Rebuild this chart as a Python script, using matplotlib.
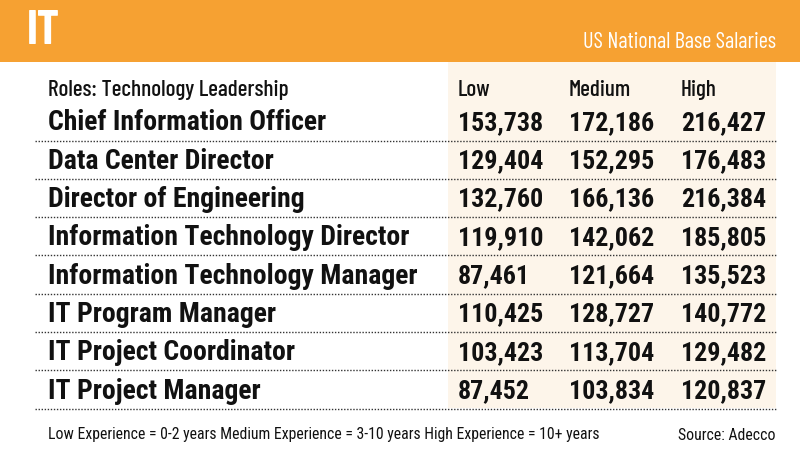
import matplotlib.pyplot as plt
from matplotlib.patches import Rectangle

roles = ["Chief Information Officer", "Data Center Director", "Director of Engineering",
         "Information Technology Director", "Information Technology Manager",
         "IT Program Manager", "IT Project Coordinator", "IT Project Manager"]
low = [153738, 129404, 132760, 119910, 87461, 110425, 103423, 87452]
medium = [172186, 152295, 166136, 142062, 121664, 128727, 113704, 103834]
high = [216427, 176483, 216384, 185805, 135523, 140772, 129482, 120837]
columns = ["Low", "Medium", "High"]

orange = "#f6a132"
cream = "#fdf5ea"
ink = "#111111"

fig = plt.figure(figsize=(8, 4.5), dpi=100)
ax = fig.add_axes([0, 0, 1, 1])
ax.set_xlim(0, 800)
ax.set_ylim(450, 0)
ax.axis("off")

bold = dict(family=["Roboto Condensed", "DejaVu Sans"], fontweight="bold")
thin = dict(family=["Barlow Condensed", "DejaVu Sans"])
foot = dict(family=["Roboto Condensed", "DejaVu Sans"])

# header band
ax.add_patch(Rectangle((0, 0), 800, 62, color=orange, lw=0))
ax.text(27, 31, "IT", color="white", fontsize=34, va="center",
        family=["Barlow Condensed", "DejaVu Sans"], fontweight="bold")
ax.text(776, 42, "US National Base Salaries", color="white", fontsize=16,
        ha="right", va="center", **thin)

# cream panel behind numbers
ax.add_patch(Rectangle((448, 62), 328, 346, color=cream, lw=0))

col_x = [458, 569, 681]
ax.text(48, 90, "Roles: Technology Leadership", fontsize=16.7, va="center", color=ink,
        fontweight="medium", **thin)
for cx, c in zip(col_x, columns):
    ax.text(cx, 90, c, fontsize=16.7, va="center", color=ink, fontweight="medium", **thin)

row_h = 38.3
y0 = 123
for i, role in enumerate(roles):
    y = y0 + i * row_h
    ax.text(48, y, role, fontsize=20, va="center", color=ink, **bold)
    for cx, v in zip(col_x, (low[i], medium[i], high[i])):
        ax.text(cx, y, f"{v:,}", fontsize=18.7, va="center", color=ink, **bold)
    ax.plot([35, 776], [y + 17.5, y + 17.5], color="#333", lw=1, ls=(0, (1, 1.2)))

ax.text(48, 435, "Low Experience = 0-2 years Medium Experience = 3-10 years High Experience = 10+ years",
        fontsize=11.3, va="center", color=ink, **foot)
ax.text(776, 435, "Source: Adecco", fontsize=11.3, ha="right", va="center", color=ink, **foot)

fig.savefig("out.png", dpi=100)
